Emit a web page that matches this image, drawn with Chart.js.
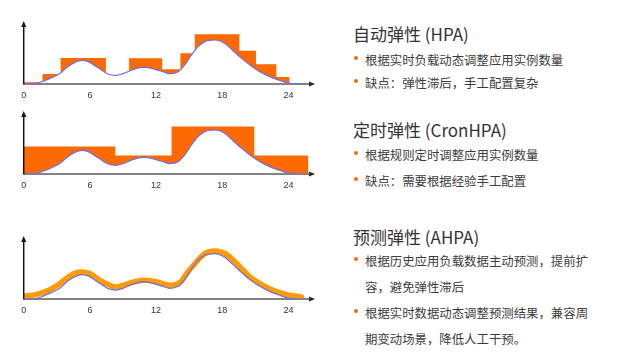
<!DOCTYPE html>
<html>
<head>
<meta charset="utf-8">
<script src="https://cdn.jsdelivr.net/npm/chart.js@4/dist/chart.umd.min.js"></script>
<style>
  html,body{margin:0;padding:0;background:#fff;}
  body{width:628px;height:358px;position:relative;overflow:hidden;font-family:"Noto Sans CJK SC","Noto Sans",sans-serif;}
  canvas.c{position:absolute;left:0;}
  .title{position:absolute;left:353px;font-size:17px;line-height:20px;color:#333;white-space:nowrap;}
  .li{position:absolute;left:365px;font-size:12.4px;line-height:16px;color:#3c3c3c;white-space:nowrap;}
  .dot{position:absolute;left:354px;width:4px;height:4px;border-radius:50%;background:#FF6A00;}
</style>
</head>
<body>
<canvas id="c1" class="c" width="320" height="105" style="top:0px"></canvas>
<canvas id="c2" class="c" width="320" height="105" style="top:90px"></canvas>
<canvas id="c3" class="c" width="320" height="105" style="top:215px"></canvas>

<div class="title" style="top:24px">自动弹性 (HPA)</div>
<div class="dot" style="top:56px"></div><div class="li" style="top:52px">根据实时负载动态调整应用实例数量</div>
<div class="dot" style="top:79px"></div><div class="li" style="top:75px">缺点：弹性滞后，手工配置复杂</div>

<div class="title" style="top:120px">定时弹性 (CronHPA)</div>
<div class="dot" style="top:151px"></div><div class="li" style="top:147px">根据规则定时调整应用实例数量</div>
<div class="dot" style="top:177px"></div><div class="li" style="top:173px">缺点：需要根据经验手工配置</div>

<div class="title" style="top:227px">预测弹性 (AHPA)</div>
<div class="dot" style="top:257px"></div><div class="li" style="top:253px">根据历史应用负载数据主动预测，提前扩</div>
<div class="li" style="top:279px">容，避免弹性滞后</div>
<div class="dot" style="top:309px"></div><div class="li" style="top:305px">根据实时数据动态调整预测结果，兼容周</div>
<div class="li" style="top:331px">期变动场景，降低人工干预。</div>

<script>
// ---- data (x in hours, y in relative load units) ----
const xTicks = [0, 6, 12, 18, 24];
const xTickLabels = ['0', '6', '12', '18', '24'];

// actual load curve (blue)
const loadHours = [0, 1.2, 1.8, 2.4, 3.3, 4.0, 4.65, 5.25, 5.85, 6.45, 7.05, 7.65, 8.35, 9.0, 9.8, 10.5, 11.0, 11.6, 12.2, 12.8, 13.25, 14.0, 14.6, 15.2, 15.8, 16.4, 17.35, 18.2, 19.0, 19.75, 20.5, 21.4, 22.3, 23.2, 24.1, 25.3, 26.0];
const loadValues = [0, 0.13, 0.6, 1.13, 2.13, 3.47, 4.33, 4.73, 4.47, 3.67, 2.8, 2.0, 1.73, 2.07, 2.8, 3.27, 3.33, 3.13, 2.73, 2.33, 2.07, 2.47, 3.8, 5.8, 7.47, 8.47, 8.8, 8.13, 6.6, 5.13, 3.8, 2.47, 1.47, 0.73, 0.13, 0, 0];

// HPA capacity steps
const hpaHours = [0, 1.7, 3.35, 7.45, 9.55, 12.55, 14.2, 15.5, 19.55, 21.05, 22.9, 24.1];
const hpaValues = [0.35, 2.0, 5.2, 0, 5.15, 2.95, 6.15, 9.95, 6.65, 3.95, 1.4, 1.4];

// CronHPA capacity steps
const cronHours = [0, 8.3, 13.4, 20.9, 25.8];
const cronValues = [5.5, 3.7, 9.5, 3.7, 3.7];

// AHPA predicted capacity
const ahpaHours = [0, 1.18, 2.38, 3.29, 4.04, 4.8, 5.25, 6.0, 6.91, 7.82, 8.36, 9.17, 10.24, 10.99, 12.05, 12.95, 13.25, 14.16, 14.91, 15.52, 16.12, 16.72, 17.42, 18.24, 18.84, 19.6, 20.5, 21.4, 22.6, 23.82, 25.18];
const ahpaValues = [0.52, 0.91, 1.81, 2.98, 4.27, 5.11, 5.24, 4.92, 3.63, 2.66, 2.33, 2.78, 3.43, 3.63, 3.3, 2.78, 2.66, 3.2, 5.33, 6.86, 8.28, 9.12, 9.31, 8.8, 7.83, 6.21, 4.27, 2.98, 1.69, 0.84, 0.39];

const pts = (xs, ys) => xs.map((x, i) => ({x, y: ys[i]}));

const ORANGE = '#FF6A00';
const AMBER = '#FF9A00';
const BLUE = '#6b6bf2';

const axisPlugin = {
  id: 'axisArrows',
  beforeDatasetsDraw(chart) {
    const {ctx, chartArea: a} = chart;
    ctx.save();
    ctx.strokeStyle = '#5a5a5a'; ctx.fillStyle = '#222'; ctx.lineWidth = 1.3;
    ctx.beginPath(); ctx.moveTo(a.left, a.bottom); ctx.lineTo(a.right - 4, a.bottom); ctx.stroke();
    ctx.beginPath(); ctx.moveTo(a.right, a.bottom); ctx.lineTo(a.right - 6, a.bottom - 2.5); ctx.lineTo(a.right - 6, a.bottom + 2.5); ctx.closePath(); ctx.fill();
    ctx.restore();
  },
  afterDatasetsDraw(chart) {
    const {ctx, chartArea: a} = chart;
    ctx.save();
    ctx.strokeStyle = '#111'; ctx.fillStyle = '#111'; ctx.lineWidth = 1.5;
    ctx.beginPath(); ctx.moveTo(a.left, a.bottom + 0.5); ctx.lineTo(a.left, a.top + 4); ctx.stroke();
    ctx.beginPath(); ctx.moveTo(a.left, a.top); ctx.lineTo(a.left - 2.5, a.top + 6); ctx.lineTo(a.left + 2.5, a.top + 6); ctx.closePath(); ctx.fill();
    ctx.restore();
  }
};

function makeChart(id, datasets, yMax) {
  return new Chart(document.getElementById(id), {
    type: 'line',
    data: {datasets},
    options: {
      responsive: false,
      animation: false,
      events: [],
      layout: {padding: {left: 23.7, top: 21, right: 5, bottom: 0}},
      plugins: {legend: {display: false}, tooltip: {enabled: false}},
      elements: {point: {radius: 0}},
      scales: {
        x: {
          type: 'linear', min: 0, max: 26.4,
          grid: {display: false, drawTicks: false},
          border: {display: false},
          afterBuildTicks: s => { s.ticks = xTicks.map(v => ({value: v})); },
          afterFit: s => { s.height = 21; },
          ticks: {
            padding: 6, maxRotation: 0, color: '#333',
            font: {family: 'Liberation Sans', size: 9},
            callback: (v) => xTickLabels[xTicks.indexOf(v)]
          }
        },
        y: {display: false, min: 0, max: yMax}
      }
    },
    plugins: [axisPlugin]
  });
}

const blueDs = () => ({
  data: pts(loadHours, loadValues), borderColor: BLUE, borderWidth: 1.2,
  cubicInterpolationMode: 'monotone', fill: false
});

makeChart('c1', [
  blueDs(),
  {data: pts(hpaHours, hpaValues), stepped: 'before', borderWidth: 0, borderColor: 'rgba(0,0,0,0)',
   fill: {target: 0, above: ORANGE, below: 'rgba(0,0,0,0)'}}
], 12.6);

makeChart('c2', [
  blueDs(),
  {data: pts(cronHours, cronValues), stepped: 'before', borderWidth: 0, borderColor: 'rgba(0,0,0,0)',
   fill: {target: 0, above: ORANGE, below: 'rgba(0,0,0,0)'}}
], 12.6);

makeChart('c3', [
  blueDs(),
  {data: pts(ahpaHours, ahpaValues), borderColor: AMBER, borderWidth: 5.5,
   cubicInterpolationMode: 'monotone', borderCapStyle: 'round', fill: false}
], 12.2);
</script>
</body>
</html>
